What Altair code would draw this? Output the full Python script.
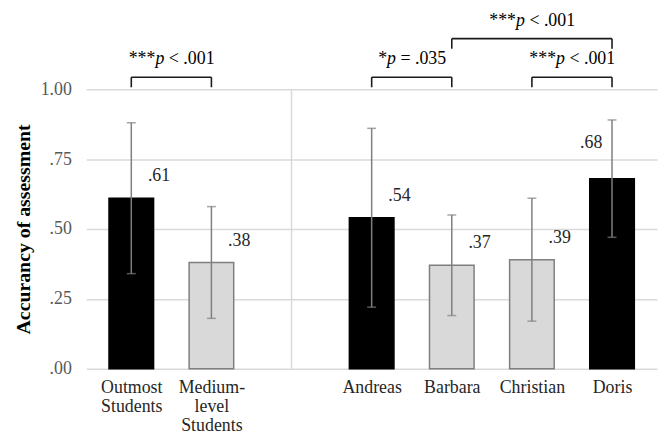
import altair as alt
import pandas as pd

# ---------------- data ----------------
categories = ["Outmost Students", "Medium-level Students", "Andreas", "Barbara", "Christian", "Doris"]
axis_labels = [["Outmost", "Students"], ["Medium-", "level", "Students"],
               ["Andreas"], ["Barbara"], ["Christian"], ["Doris"]]
group_sizes = [2, 4]
kinds = ["outmost", "medium", "outmost", "medium", "medium", "outmost"]
means = [0.61, 0.38, 0.54, 0.37, 0.39, 0.68]
err_low = [0.34, 0.18, 0.22, 0.19, 0.17, 0.47]
err_high = [0.88, 0.58, 0.86, 0.55, 0.61, 0.89]

comp_a = ["Outmost Students", "Andreas", "Christian", "Barbara"]
comp_b = ["Medium-level Students", "Barbara", "Doris", "Doris"]
comp_stars = ["***", "*", "***", "***"]
comp_rest = ["< .001", "= .035", "< .001", "< .001"]
comp_tier = [0, 0, 0, 1]

# ---------------- layout helpers ----------------
FONT = "Liberation Serif"
FS = 18
W, H = 576, 282

# slot index for each category, with an empty slot between groups
idx = []
seps = []
pos = 0
for gi, g in enumerate(group_sizes):
    for _ in range(g):
        idx.append(pos)
        pos += 1
    if gi < len(group_sizes) - 1:
        seps.append(pos)
        pos += 1
n_slots = pos
px_per_unit = W / n_slots
x_domain = [-0.5, n_slots - 0.5]

df = pd.DataFrame({
    "name": categories,
    "idx": idx,
    "kind": kinds,
    "mean": means,
    "low": err_low,
    "high": err_high,
})
df["label"] = [f"{v:.2f}".lstrip("0") for v in means]

pos_of = dict(zip(categories, idx))
leg_base, leg_len, tier_step, text_gap = 1.007, 0.036, 0.138, 0.046
rows = []
for a, b, s, r, t in zip(comp_a, comp_b, comp_stars, comp_rest, comp_tier):
    x1, x2 = pos_of[a], pos_of[b]
    bottom = leg_base + t * tier_step
    top = bottom + leg_len
    mid = (x1 + x2) / 2
    w_stars = len(s) * 0.5 * FS
    w_rest = (0.564 + 0.25 + 1.75) * FS
    total = w_stars + 0.5 * FS + 0.25 * FS + w_rest
    p_left = mid + (w_stars - total / 2) / px_per_unit
    rows.append({"x1": x1, "x2": x2, "bottom": bottom, "top": top,
                 "ty": top + text_gap, "px": p_left, "stars": s, "rest": r})
cdf = pd.DataFrame(rows)
sdf = pd.DataFrame({"sx": seps, "y0": [0.0] * len(seps), "y1": [1.0] * len(seps)})

# ---------------- scales ----------------
xs = alt.Scale(domain=x_domain, nice=False, zero=False)
ys = alt.Scale(domain=[0, 1], nice=False)

label_expr = ""
for i, lab in zip(idx, axis_labels):
    arr = "[" + ",".join("'" + p + "'" for p in lab) + "]"
    label_expr += f"datum.value == {i} ? {arr} : "
label_expr += "''"

base = alt.Chart(df)

bars = base.mark_bar(size=45, strokeWidth=1.5).encode(
    x=alt.X("idx:Q", scale=xs,
            axis=alt.Axis(values=idx, labelExpr=label_expr, title=None, grid=False,
                          ticks=False, domain=False, labelFont=FONT, labelFontSize=FS,
                          labelColor="#262626", labelPadding=10, labelLineHeight=19,
                          labelAngle=0)),
    y=alt.Y("mean:Q", scale=ys,
            axis=alt.Axis(values=[0, 0.25, 0.5, 0.75, 1.0],
                          labelExpr="datum.value >= 1 ? format(datum.value, '.2f') : replace(format(datum.value, '.2f'), '0.', '.')",
                          title="Accurancy of assessment", titleFont=FONT, titleFontSize=20,
                          titleFontWeight="bold", titleColor="#000000",
                          titleX=-63, titleY=141, titleAngle=270, titleAlign="center",
                          titleBaseline="middle",
                          labelFont=FONT, labelFontSize=FS, labelColor="#595959",
                          ticks=False, domain=False, labelPadding=15,
                          grid=True, gridColor="#d9d9d9", gridWidth=1.5)),
    color=alt.Color("kind:N", scale=alt.Scale(domain=["outmost", "medium"],
                                              range=["#000000", "#d9d9d9"]), legend=None),
    stroke=alt.Stroke("kind:N", scale=alt.Scale(domain=["outmost", "medium"],
                                                range=["#000000", "#7f7f7f"]), legend=None),
)

sep = alt.Chart(sdf).mark_rule(color="#d9d9d9", strokeWidth=1.5).encode(
    x=alt.X("sx:Q", scale=xs), y=alt.Y("y0:Q", scale=ys), y2="y1:Q")

err = base.mark_rule(color="#7f7f7f", strokeWidth=1.5).encode(
    x=alt.X("idx:Q", scale=xs), y=alt.Y("low:Q", scale=ys), y2="high:Q")

caps = base.transform_fold(["low", "high"], as_=["end", "val"]).mark_tick(
    orient="horizontal", size=9, thickness=1.5, color="#7f7f7f").encode(
    x=alt.X("idx:Q", scale=xs), y=alt.Y("val:Q", scale=ys))

lab_right = base.transform_filter("datum.name != 'Doris'").mark_text(
    font=FONT, fontSize=FS, color="#262626", dx=28, dy=-22, align="center", baseline="middle").encode(
    x=alt.X("idx:Q", scale=xs), y=alt.Y("mean:Q", scale=ys), text="label:N")
lab_left = base.transform_filter("datum.name == 'Doris'").mark_text(
    font=FONT, fontSize=FS, color="#262626", dx=-21, dy=-36, align="center", baseline="middle").encode(
    x=alt.X("idx:Q", scale=xs), y=alt.Y("mean:Q", scale=ys), text="label:N")

cb = alt.Chart(cdf)
br_h = cb.mark_rule(color="#1a1a1a", strokeWidth=1.6).encode(
    x=alt.X("x1:Q", scale=xs), x2="x2:Q", y=alt.Y("top:Q", scale=ys))
br_l = cb.mark_rule(color="#1a1a1a", strokeWidth=1.6).encode(
    x=alt.X("x1:Q", scale=xs), y=alt.Y("bottom:Q", scale=ys), y2="top:Q")
br_r = cb.mark_rule(color="#1a1a1a", strokeWidth=1.6).encode(
    x=alt.X("x2:Q", scale=xs), y=alt.Y("bottom:Q", scale=ys), y2="top:Q")
t_stars = cb.mark_text(font=FONT, fontSize=FS, color="#000000", align="right",
                       baseline="alphabetic").encode(
    x=alt.X("px:Q", scale=xs), y=alt.Y("ty:Q", scale=ys), text="stars:N")
t_p = cb.mark_text(font=FONT, fontSize=FS, color="#000000", align="left", fontStyle="italic",
                   baseline="alphabetic", text="p").encode(
    x=alt.X("px:Q", scale=xs), y=alt.Y("ty:Q", scale=ys))
t_rest = cb.mark_text(font=FONT, fontSize=FS, color="#000000", align="left",
                      baseline="alphabetic", dx=0.75 * FS).encode(
    x=alt.X("px:Q", scale=xs), y=alt.Y("ty:Q", scale=ys), text="rest:N")

chart = alt.layer(sep, bars, err, caps, lab_right, lab_left,
                  br_h, br_l, br_r, t_stars, t_p, t_rest).properties(
    width=W, height=H,
    padding={"left": 79, "top": 80, "right": 4, "bottom": 66},
    autosize=alt.AutoSizeParams(type="none"),
    background="#ffffff",
).configure_view(stroke=None)

chart.save("out.html", embed_options={"renderer": "svg", "actions": False})
